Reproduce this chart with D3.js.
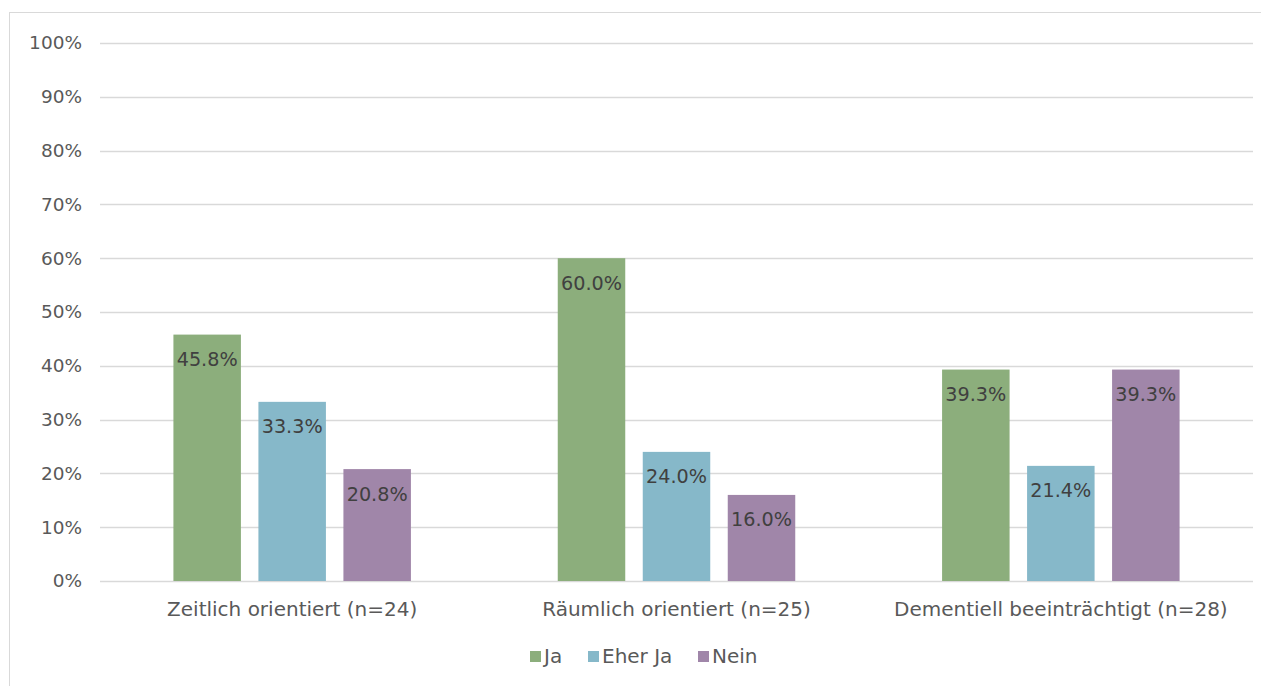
<!DOCTYPE html>
<html>
<head>
<meta charset="utf-8">
<script src="https://cdn.jsdelivr.net/npm/d3@7"></script>
<style>
  html, body { margin: 0; padding: 0; background: #fff; }
  svg { display: block; font-family: "DejaVu Sans", Verdana, sans-serif; }
</style>
</head>
<body>
<svg id="chart" width="1261" height="686"></svg>
<script>
// Anteile je Kategorie und Antwort (in Prozent)
const categories = ["Zeitlich orientiert (n=24)", "Räumlich orientiert (n=25)", "Dementiell beeinträchtigt (n=28)"];
const seriesNames = ["Ja", "Eher Ja", "Nein"];
const ja = [45.8, 60.0, 39.3];
const eherJa = [33.3, 24.0, 21.4];
const nein = [20.8, 16.0, 39.3];
const yTicks = [0, 10, 20, 30, 40, 50, 60, 70, 80, 90, 100];
const colors = ["#8cae7c", "#86b8c9", "#a086a9"];

const seriesValues = [ja, eherJa, nein];

const svg = d3.select("#chart");
const W = 1261, H = 686;

// Rahmen des Diagrammbereichs
svg.append("rect")
  .attr("x", 9.5).attr("y", 12.5)
  .attr("width", W + 20).attr("height", H + 20)
  .attr("fill", "none").attr("stroke", "#d9d9d9").attr("stroke-width", 1);

const plot = { left: 100, right: 1253, top: 43, bottom: 581 };

const y = d3.scaleLinear().domain([0, 100]).range([plot.bottom, plot.top]);
const x0 = d3.scaleBand().domain(categories).range([plot.left, plot.right]).paddingInner(0).paddingOuter(0);

// Gitterlinien
svg.append("g").selectAll("line")
  .data(yTicks)
  .join("line")
  .attr("x1", plot.left).attr("x2", plot.right)
  .attr("y1", d => Math.round(y(d)) + 0.5).attr("y2", d => Math.round(y(d)) + 0.5)
  .attr("stroke", "#d9d9d9").attr("stroke-width", 1.3);

// Y-Achse
const yAxis = d3.axisLeft(y).tickValues(yTicks).tickFormat(d => d + "%").tickSize(0).tickPadding(0);
const gy = svg.append("g").attr("transform", `translate(${plot.left - 18},0)`).call(yAxis);
gy.select(".domain").remove();
gy.selectAll("text").attr("fill", "#595959").attr("font-size", 18.5).attr("font-family", "DejaVu Sans, sans-serif");

// Balken
const barW = 67.5, gap = 17.5;
const groupW = 3 * barW + 2 * gap;
categories.forEach((cat, ci) => {
  const cx = x0(cat) + x0.bandwidth() / 2;
  const start = cx - groupW / 2;
  seriesValues.forEach((vals, si) => {
    const v = vals[ci];
    const bx = start + si * (barW + gap);
    svg.append("rect")
      .attr("x", bx).attr("y", y(v))
      .attr("width", barW).attr("height", y(0) - y(v))
      .attr("fill", colors[si]);
    svg.append("text")
      .attr("x", bx + barW / 2).attr("y", y(v) + 31.5)
      .attr("text-anchor", "middle")
      .attr("font-size", 19.2).attr("fill", "#404040")
      .text(v.toFixed(1) + "%");
  });
});

// X-Achse
const xAxis = d3.axisBottom(x0).tickSize(0).tickPadding(0);
const gx = svg.append("g").attr("transform", `translate(0,${plot.bottom})`).call(xAxis);
gx.select(".domain").remove();
gx.selectAll("text").attr("fill", "#595959").attr("font-size", 20).attr("font-family", "DejaVu Sans, sans-serif")
  .attr("dy", null).attr("y", 35);

// Legende
const legendItems = [
  { name: seriesNames[0], sx: 530 },
  { name: seriesNames[1], sx: 588 },
  { name: seriesNames[2], sx: 698 }
];
const lg = svg.append("g");
legendItems.forEach((it, i) => {
  lg.append("rect").attr("x", it.sx).attr("y", 651).attr("width", 11).attr("height", 11).attr("fill", colors[i]);
  lg.append("text").attr("x", it.sx + 14).attr("y", 663)
    .attr("font-size", 20).attr("fill", "#595959").text(it.name);
});
</script>
</body>
</html>
